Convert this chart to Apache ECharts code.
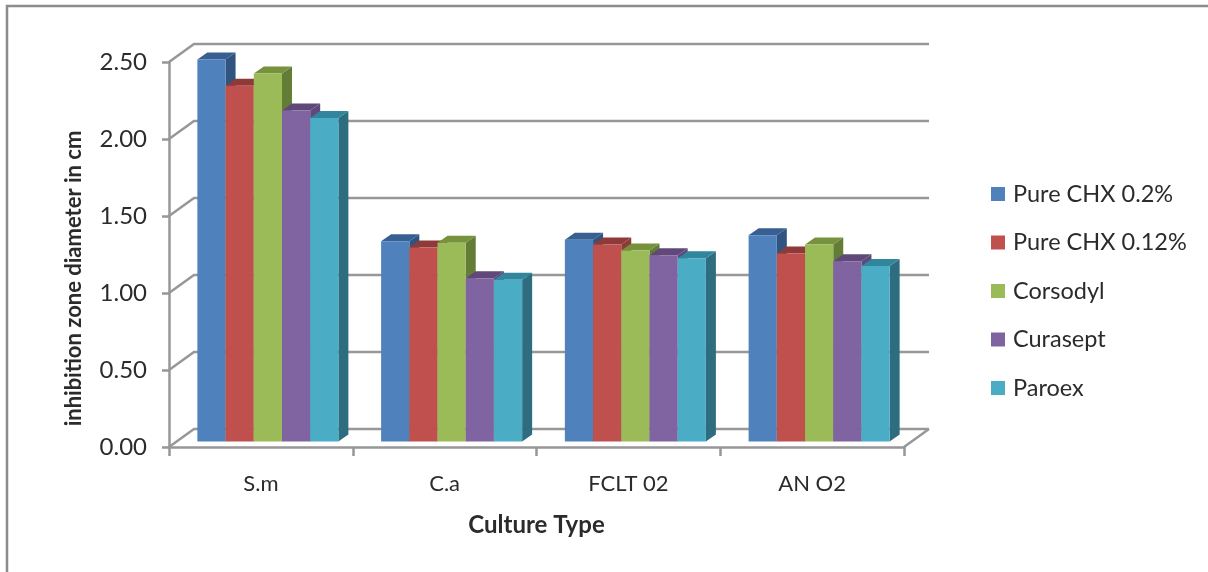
<!DOCTYPE html>
<html>
<head>
<meta charset="utf-8">
<style>
    html, body { margin: 0; padding: 0; background: #fff; }
    #chart { width: 1208px; height: 572px; }
</style>
<script src="https://cdn.jsdelivr.net/npm/echarts@6/dist/echarts.min.js"></script>
</head>
<body>
<div id="chart"></div>
<script>
const categories = ['S.m', 'C.a', 'FCLT 02', 'AN O2'];
const yTicks = [0, 0.5, 1, 1.5, 2, 2.5];

const pureChx02 = [2.48, 1.30, 1.31, 1.34];
const pureChx012 = [2.31, 1.26, 1.28, 1.22];
const corsodyl = [2.39, 1.29, 1.24, 1.28];
const curasept = [2.15, 1.06, 1.21, 1.17];
const paroex = [2.10, 1.05, 1.19, 1.14];

const seriesNames = ['Pure CHX 0.2%', 'Pure CHX 0.12%', 'Corsodyl', 'Curasept', 'Paroex'];
const seriesValues = [pureChx02, pureChx012, corsodyl, curasept, paroex];
const frontColors = ['#4f81bd', '#c0504d', '#9bbb59', '#8064a2', '#4bacc6'];
const topColors = ['#375f92', '#8e3a38', '#76923c', '#60497a', '#31859c'];
const sideColors = ['#30547f', '#8e3a38', '#647d36', '#60497a', '#2e6d80'];

const lineColor = '#979797';
const textColor = '#2b2b2b';
const fontName = 'Lato';

// 3D look: the back wall and the bars are shifted up and right from the axes
const wallDx = 25, wallDy = 18;
const barDx = 7, barDy = 5.5;
const depthDx = 10, depthDy = 7;

let myChart = echarts.init(document.getElementById('chart'));

function renderWall(params, api) {
    const box = params.coordSys;
    const y = api.coord([0, api.value(1)])[1];
    const left = box.x, right = box.x + box.width;
    const children = [{
        type: 'polyline',
        shape: { points: [[left, y], [left + wallDx, y - wallDy], [right + wallDx, y - wallDy]] },
        style: { fill: 'none', stroke: lineColor, lineWidth: 2.5 }
    }];
    if (api.value(1) === 0) {
        children.push({
            type: 'line',
            shape: { x1: right, y1: y, x2: right + wallDx, y2: y - wallDy },
            style: { stroke: lineColor, lineWidth: 2.5 }
        });
    }
    return { type: 'group', children: children };
}

function makeBarRenderer(index) {
    return function (params, api) {
        const top = api.coord([api.value(0), api.value(1)]);
        const base = api.coord([api.value(0), 0]);
        const w = api.size([1, 0])[0] * 0.1535;
        const x0 = top[0] + barDx - 2.5 * w + index * w;
        const x1 = x0 + w;
        const yTop = top[1] - barDy;
        const yBase = base[1] - barDy;
        return {
            type: 'group',
            children: [
                {
                    type: 'polygon',
                    shape: { points: [[x1, yTop], [x1 + depthDx, yTop - depthDy], [x1 + depthDx, yBase - depthDy], [x1, yBase]] },
                    style: { fill: sideColors[index] }
                },
                {
                    type: 'polygon',
                    shape: { points: [[x0, yTop], [x0 + depthDx, yTop - depthDy], [x1 + depthDx, yTop - depthDy], [x1, yTop]] },
                    style: { fill: topColors[index] }
                },
                {
                    type: 'rect',
                    shape: { x: x0, y: yTop, width: w, height: yBase - yTop },
                    style: { fill: frontColors[index] }
                }
            ]
        };
    };
}

const barSeries = seriesNames.map((name, i) => ({
    name: name,
    type: 'custom',
    renderItem: makeBarRenderer(i),
    coordinateSystem: 'cartesian2d',
    clip: false,
    z: 3,
    itemStyle: { color: frontColors[i] },
    encode: { x: 0, y: 1 },
    data: seriesValues[i].map((v, c) => [c, v])
}));

myChart.setOption({
    animation: false,
    backgroundColor: '#fff',
    textStyle: { fontFamily: fontName },
    graphic: [{
        type: 'polyline',
        shape: { points: [[7, 572], [7, 6], [1208, 6]] },
        style: { fill: 'none', stroke: '#8c8c8c', lineWidth: 2.5 }
    }],
    legend: {
        orient: 'vertical',
        left: 986,
        top: 177,
        icon: 'rect',
        itemWidth: 14,
        itemHeight: 14,
        itemGap: 24.5,
        data: seriesNames,
        textStyle: { fontFamily: fontName, fontSize: 23.5, color: textColor, padding: [0, 0, 0, 3] }
    },
    grid: { left: 169, right: 304, top: 62, bottom: 125 },
    xAxis: {
        type: 'category',
        data: categories,
        name: 'Culture Type',
        nameLocation: 'middle',
        nameGap: 66,
        nameTextStyle: { fontFamily: fontName, fontSize: 24, fontWeight: 'bold', color: textColor },
        axisLine: { lineStyle: { color: lineColor, width: 2.5 } },
        axisTick: { show: true, length: 9, alignWithLabel: false, lineStyle: { color: lineColor, width: 2.5 } },
        axisLabel: { fontFamily: fontName, fontSize: 22, color: textColor, margin: 26 }
    },
    yAxis: {
        type: 'value',
        min: 0,
        max: 2.5,
        interval: 0.5,
        name: 'inhibition zone diameter in cm',
        nameLocation: 'middle',
        nameGap: 84,
        nameTextStyle: { fontFamily: fontName, fontSize: 22, fontWeight: 'bold', color: textColor, padding: [0, 48, 0, 0] },
        splitLine: { show: false },
        axisLine: { show: true, lineStyle: { color: lineColor, width: 2.5 } },
        axisTick: { show: true, length: 7, lineStyle: { color: lineColor, width: 2.5 } },
        axisLabel: {
            fontFamily: fontName,
            fontSize: 24,
            color: textColor,
            margin: 22,
            formatter: v => v.toFixed(2)
        }
    },
    series: [{
        name: 'wall',
        type: 'custom',
        renderItem: renderWall,
        coordinateSystem: 'cartesian2d',
        clip: false,
        silent: true,
        z: 1,
        encode: { x: 0, y: 1 },
        data: yTicks.map(t => [0, t])
    }].concat(barSeries)
});
</script>
</body>
</html>
